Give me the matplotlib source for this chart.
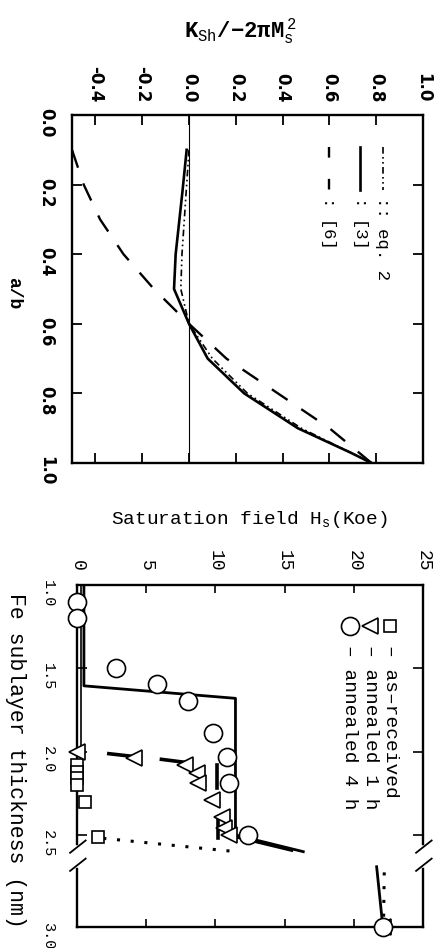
import numpy as np
import matplotlib
matplotlib.use("Agg")
import matplotlib.pyplot as plt
from matplotlib.ticker import FormatStrFormatter

# the whole figure is printed turned a quarter turn clockwise:
# values grow to the right, the abscissa runs downward

# top panel: K_Sh / -2 pi Ms^2 against a/b
ab_eq2 = [0.10, 0.20, 0.30, 0.40, 0.50, 0.60, 0.70, 0.80, 0.90, 1.00]
k_eq2 = [0.00, -0.01, -0.02, -0.03, -0.035, 0.00, 0.10, 0.25, 0.48, 0.78]
ab_ref3 = [0.10, 0.22, 0.40, 0.50, 0.60, 0.70, 0.80, 0.90, 0.97, 1.00]
k_ref3 = [-0.01, -0.028, -0.057, -0.064, 0.00, 0.08, 0.236, 0.465, 0.69, 0.78]
ab_ref6 = [0.10, 0.20, 0.30, 0.40, 0.50, 0.60, 0.70, 0.80, 0.90, 1.00]
k_ref6 = [-0.50, -0.45, -0.38, -0.28, -0.15, 0.00, 0.16, 0.38, 0.60, 0.78]

ab_ticks = [0.0, 0.2, 0.4, 0.6, 0.8, 1.0]
k_ticks = [-0.4, -0.2, 0.0, 0.2, 0.4, 0.6, 0.8, 1.0]

# bottom panel: saturation field against Fe sublayer thickness
t_received = [2.08, 2.12, 2.16, 2.20, 2.30, 2.51]
hs_received = [0.0, 0.0, 0.0, 0.0, 0.6, 1.55]
t_1h = [2.00, 2.04, 2.08, 2.13, 2.19, 2.29, 2.39, 2.46, 2.50, 3.00]
hs_1h = [0.0, 4.1, 7.8, 8.65, 8.75, 9.75, 10.45, 10.6, 10.95, 22.1]
t_4h = [1.10, 1.20, 1.50, 1.595, 1.695, 1.89, 2.03, 2.19, 2.50, 3.00]
hs_4h = [0.0, 0.0, 2.85, 5.8, 8.0, 9.85, 10.85, 10.95, 12.35, 22.1]

t_model = [1.00, 1.605, 1.68, 2.50, 2.60]
hs_model = [0.5, 0.5, 11.45, 11.45, 16.35]
t_model_bulk = [2.68, 3.00]
hs_model_bulk = [21.65, 22.1]
t_thin = [1.00, 2.05]
hs_thin = [0.27, 0.27]
t_dots = [2.52, 2.60]
hs_dots = [1.9, 11.5]
t_dots_bulk = [2.71, 2.98]
hs_dots_bulk = [22.2, 22.15]
# short fit pieces near the annealed points
t_pieces = [(2.012, 2.03), (2.046, 2.065), (2.08, 2.22), (2.39, 2.52), (2.51, 2.59)]
hs_pieces = [(2.3, 4.2), (6.1, 7.9), (10.1, 10.1), (10.2, 10.2), (11.5, 15.5)]

hs_ticks = [0, 5, 10, 15, 20, 25]
t_ticks = [1.0, 1.5, 2.0, 2.5, 3.0]

T_BREAK = 2.6
STRETCH = 1.13


def fwd(t):
    t = np.asarray(t, float)
    return np.where(t <= T_BREAK, t, T_BREAK + (t - T_BREAK) * STRETCH)


def inv(u):
    u = np.asarray(u, float)
    return np.where(u <= T_BREAK, u, T_BREAK + (u - T_BREAK) / STRETCH)


MONO = ["Liberation Mono", "DejaVu Sans Mono"]
NARROW = ["Liberation Sans Narrow", "DejaVu Sans"]

plt.rcParams["font.family"] = MONO
plt.rcParams["mathtext.fontset"] = "custom"
plt.rcParams["mathtext.rm"] = "Liberation Mono"
plt.rcParams["mathtext.default"] = "rm"

W, H = 445, 948
fig = plt.figure(figsize=(W / 100, H / 100), dpi=100)


def box(l, t, r, b):
    return [l / W, 1 - b / H, (r - l) / W, (b - t) / H]


# ---- top panel
ax1 = fig.add_axes(box(72, 115, 423, 463))
ax1.axvline(0, color="k", lw=0.8)
ax1.plot(k_eq2, ab_eq2, color="k", lw=1.2, ls=(0, (4, 2, 1, 2, 1, 2)))
ax1.plot(k_ref3, ab_ref3, color="k", lw=1.9)
ax1.plot(k_ref6, ab_ref6, color="k", lw=1.7, ls=(0, (8, 7)))
ax1.set_xlim(-0.5, 1.0)
ax1.set_ylim(1.0, 0.0)
ax1.set_xticks(k_ticks)
ax1.set_yticks(ab_ticks)
ax1.xaxis.set_major_formatter(FormatStrFormatter("%.1f"))
ax1.yaxis.set_major_formatter(FormatStrFormatter("%.1f"))
ax1.tick_params(axis="x", top=True, bottom=True, labeltop=True, labelbottom=False,
                direction="in", length=7, width=1.3, pad=9, labelrotation=-90)
ax1.tick_params(axis="y", left=True, right=True, direction="in", length=7,
                width=1.3, pad=12, labelrotation=-90)
for lab in ax1.get_xticklabels() + ax1.get_yticklabels():
    lab.set_family(NARROW)
    lab.set_weight("bold")
    lab.set_fontsize(12)
for s in ax1.spines.values():
    s.set_linewidth(1.7)

legend1 = [(0.886, (0, (4, 2, 1, 2, 1, 2)), 1.2, ":: eq. 2"),
           (0.821, "-", 1.9, ": [3]"),
           (0.732, (0, (4.5, 9)), 1.7, ": [6]")]
for x, style, lw, txt in legend1:
    ax1.plot([x, x], [0.908, 0.784], color="k", lw=lw, ls=style,
             transform=ax1.transAxes)
    ax1.text(x, 0.765, txt, transform=ax1.transAxes, rotation=-90,
             ha="center", va="top", fontsize=12.5)

fig.text(240 / W, 1 - 31 / H, "K$_{\\rm Sh}$/\u22122\u03c0M$_{\\rm s}^{\\,2}$",
         ha="center", va="center", fontsize=16, weight="bold")
fig.text(14 / W, 1 - 293 / H, "a/b", rotation=-90, ha="center", va="center",
         fontsize=13, weight="bold")

# ---- bottom panel
ax2 = fig.add_axes(box(77, 585, 423, 927))
ax2.set_yscale("function", functions=(fwd, inv))
ax2.plot(hs_model, t_model, color="k", lw=2.0)
ax2.plot(hs_model_bulk, t_model_bulk, color="k", lw=2.0)
ax2.plot(hs_thin, t_thin, color="k", lw=1.2)
for hp, tp in zip(hs_pieces, t_pieces):
    ax2.plot(hp, tp, color="k", lw=2.6)
ax2.plot(hs_dots, t_dots, color="k", lw=2.2, ls=(0, (1, 3.5)))
ax2.plot(hs_dots_bulk, t_dots_bulk, color="k", lw=2.2, ls=(0, (1, 3.5)))

mk = dict(color="k", ls="none", mfc="white", mec="k", mew=1.2, clip_on=False, zorder=4)
ax2.plot(hs_received, t_received, marker="s", ms=9, **mk)
ax2.plot(hs_1h, t_1h, marker="<", ms=11, **mk)
ax2.plot(hs_4h, t_4h, marker="o", ms=13, **mk)
for x, m, s, txt in [(0.905, "s", 9, "\u2013 as\u2013received"),
                     (0.847, "<", 11, "\u2013 annealed 1 h"),
                     (0.789, "o", 13, "\u2013 annealed 4 h")]:
    ax2.plot([x], [0.879], marker=m, ms=s, ls="none", mfc="white", mec="k",
             mew=1.2, transform=ax2.transAxes)
    ax2.text(x, 0.825, txt, transform=ax2.transAxes, rotation=-90,
             ha="center", va="top", fontsize=14)

ax2.set_xlim(0, 25)
ax2.set_ylim(3.0, 1.0)
ax2.set_xticks(hs_ticks)
ax2.set_yticks(t_ticks)
ax2.yaxis.set_major_formatter(FormatStrFormatter("%.1f"))
ax2.tick_params(axis="x", top=True, bottom=True, labeltop=True, labelbottom=False,
                direction="in", length=6, width=1.2, pad=10, labelrotation=-90,
                labelsize=13)
ax2.tick_params(axis="y", left=True, right=True, direction="in", length=7,
                width=1.2, pad=16, labelrotation=-90, labelsize=11)
for s in ax2.spines.values():
    s.set_linewidth(1.7)

# axis break marks on both long sides
for x0 in (0.0, 1.0):
    ax2.plot([x0, x0], [0.182, 0.231], color="white", lw=4,
             transform=ax2.transAxes, clip_on=False, zorder=5)
    for yb in (0.164, 0.217):
        ax2.plot([x0 - 0.02, x0 + 0.025], [yb, yb + 0.036], color="k", lw=1.3,
                 transform=ax2.transAxes, clip_on=False, zorder=6)

fig.text(249 / W, 1 - 520 / H, "Saturation field H$_{\\rm s}$(Koe)",
         ha="center", va="center", fontsize=14)
fig.text(15 / W, 1 - 760 / H, "Fe sublayer thickness (nm)", rotation=-90,
         ha="center", va="center", fontsize=15.5)

fig.savefig("out.png", dpi=100)
